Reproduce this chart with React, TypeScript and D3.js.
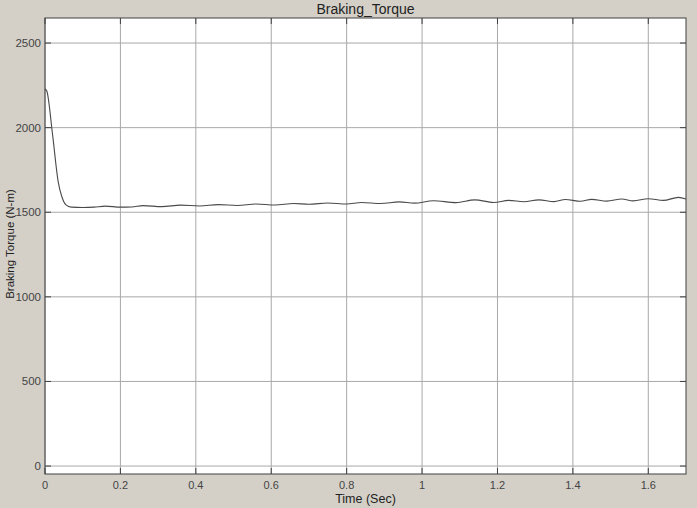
import React from "react";
import * as d3 from "d3";

const times = [0, 0.005, 0.02, 0.035, 0.045, 0.055, 0.07, 0.1, 0.13, 0.16, 0.2, 0.23, 0.26, 0.31, 0.36, 0.41, 0.46, 0.51, 0.56, 0.61, 0.66, 0.7, 0.75, 0.8, 0.84, 0.89, 0.94, 0.98, 1.03, 1.09, 1.14, 1.19, 1.23, 1.27, 1.31, 1.35, 1.38, 1.42, 1.45, 1.49, 1.53, 1.56, 1.6, 1.64, 1.68, 1.7];
const torque = [2230, 2215, 1960, 1680, 1590, 1545, 1530, 1528, 1530, 1536, 1530, 1531, 1539, 1533, 1542, 1537, 1545, 1540, 1549, 1543, 1552, 1547, 1555, 1549, 1558, 1552, 1561, 1554, 1568, 1557, 1573, 1558, 1570, 1562, 1573, 1563, 1575, 1565, 1576, 1566, 1578, 1567, 1580, 1570, 1588, 1578];
const xTicks = [0, 0.2, 0.4, 0.6, 0.8, 1, 1.2, 1.4, 1.6];
const yTicks = [0, 500, 1000, 1500, 2000, 2500];

const W = 697, H = 508;
const L = 45, R = 686, T = 18, B = 474;

export default function App() {
  const x = d3.scaleLinear().domain([0, 1.7]).range([L, R]);
  const y = d3.scaleLinear().domain([-47, 2648]).range([B, T]);
  const line = d3.line<number>().x((_, i) => x(times[i])).y((d) => y(d)).curve(d3.curveMonotoneX);
  const font = "'Liberation Sans', Arial, sans-serif";
  return (
    <svg width={W} height={H} style={{ position: "fixed", left: 0, top: 0 }} fontFamily={font}>
      <rect x={0} y={0} width={W} height={H} fill="#d4d0c8" />
      <rect x={L} y={T} width={R - L} height={B - T} fill="#ffffff" />
      {xTicks.map((t) => (
        <line key={"gx" + t} x1={x(t)} x2={x(t)} y1={T} y2={B} stroke="#a8a8a8" strokeWidth={1} />
      ))}
      {yTicks.map((t) => (
        <line key={"gy" + t} x1={L} x2={R} y1={y(t)} y2={y(t)} stroke="#a8a8a8" strokeWidth={1} />
      ))}
      {xTicks.map((t) => (
        <g key={"tx" + t}>
          <line x1={x(t)} x2={x(t)} y1={B} y2={B - 6} stroke="#404040" />
          <line x1={x(t)} x2={x(t)} y1={T} y2={T + 6} stroke="#404040" />
          <text x={x(t)} y={B + 15} textAnchor="middle" fontSize={11} fill="#444">{String(t)}</text>
        </g>
      ))}
      {yTicks.map((t) => (
        <g key={"ty" + t}>
          <line x1={L} x2={L + 6} y1={y(t)} y2={y(t)} stroke="#404040" />
          <line x1={R} x2={R - 6} y1={y(t)} y2={y(t)} stroke="#404040" />
          <text x={L - 4} y={y(t) + 4} textAnchor="end" fontSize={11.5} fill="#444">{String(t)}</text>
        </g>
      ))}
      <path d={line(torque) || ""} fill="none" stroke="#4a4a4a" strokeWidth={1.1} />
      <rect x={L} y={T} width={R - L} height={B - T} fill="none" stroke="#404040" strokeWidth={1} />
      <text x={(L + R) / 2} y={13.5} textAnchor="middle" fontSize={14} fill="#222">Braking_Torque</text>
      <text x={(L + R) / 2} y={503} textAnchor="middle" fontSize={12.5} fill="#222">Time (Sec)</text>
      <text transform={`translate(14, 244) rotate(-90)`} textAnchor="middle" fontSize={11.5} fill="#222">Braking Torque (N-m)</text>
    </svg>
  );
}
